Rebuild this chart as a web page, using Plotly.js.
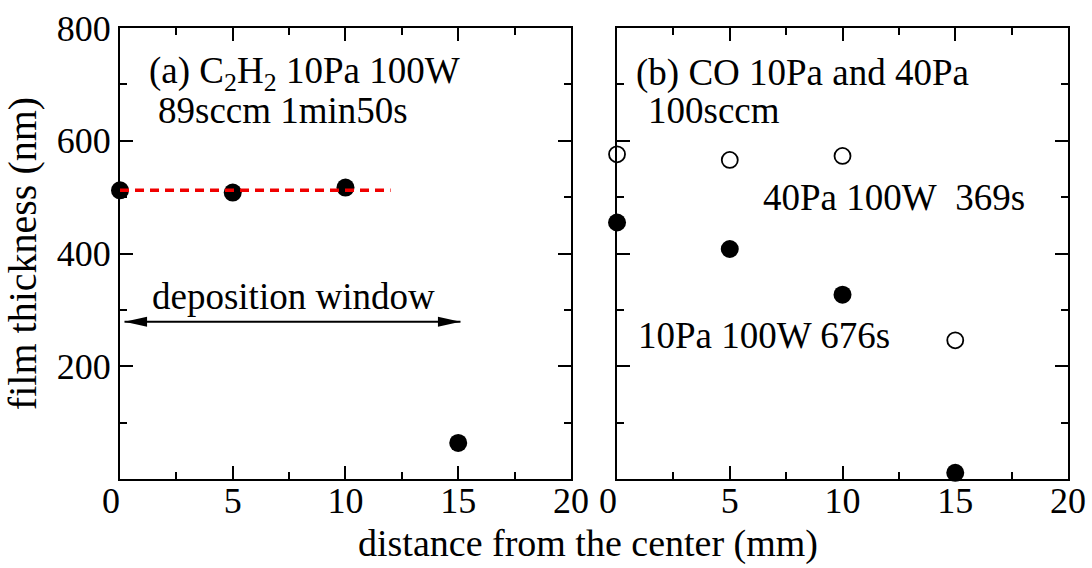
<!DOCTYPE html>
<html>
<head>
<meta charset="utf-8">
<script src="https://cdn.plot.ly/plotly-3.0.1.min.js"></script>
<style>html,body{margin:0;padding:0;background:#fff;}#chart{width:1092px;height:568px;}</style>
</head>
<body>
<div id="chart"></div>
<script>
// Panel (a): C2H2
const distA = [0, 5, 10, 15];
const thickA = [512, 508, 517, 64];
const fitX = [0, 12];
const fitY = [512, 512];
const windowX = [0.2, 15.1];
const windowY = [279, 279];

// Panel (b): CO
const distB = [0, 5, 10, 15];
const thick40Pa = [576, 566, 573, 246];
const thick10Pa = [455, 408, 327, 11];

const xTicks = [0, 5, 10, 15, 20];
const yTicks = [200, 400, 600, 800];

const FONT = 'Liberation Serif, Times New Roman, serif';
// the "0" label sits slightly left of its tick in the original (en-space pad)
const xTickText = xTicks.map(v => v === 0 ? '0\u2002' : String(v));

const traces = [
  {x: distA, y: thickA, xaxis: 'x', yaxis: 'y', mode: 'markers', type: 'scatter',
   marker: {size: 18, color: '#000', symbol: 'circle'}, cliponaxis: false},
  {x: fitX, y: fitY, xaxis: 'x', yaxis: 'y', mode: 'lines', type: 'scatter',
   line: {color: '#f00000', width: 3.5, dash: '9px,6px'}, cliponaxis: false},
  {x: windowX, y: windowY, xaxis: 'x', yaxis: 'y', mode: 'lines', type: 'scatter',
   line: {color: '#000', width: 2}},
  {x: distB, y: thick40Pa, xaxis: 'x2', yaxis: 'y2', mode: 'markers', type: 'scatter',
   marker: {size: 16, color: '#fff', symbol: 'circle', line: {color: '#000', width: 1.8}}, cliponaxis: false},
  {x: distB, y: thick10Pa, xaxis: 'x2', yaxis: 'y2', mode: 'markers', type: 'scatter',
   marker: {size: 18, color: '#000', symbol: 'circle'}, cliponaxis: false}
];

// arrowheads built from the window endpoints
const hl = 1.0, hw = 9;
const shapes = [
  {type: 'path', xref: 'x', yref: 'y', fillcolor: '#000', line: {width: 0},
   path: `M${windowX[0]},${windowY[0]} L${windowX[0]+hl},${windowY[0]+hw} L${windowX[0]+hl},${windowY[0]-hw} Z`},
  {type: 'path', xref: 'x', yref: 'y', fillcolor: '#000', line: {width: 0},
   path: `M${windowX[1]},${windowY[1]} L${windowX[1]-hl},${windowY[1]+hw} L${windowX[1]-hl},${windowY[1]-hw} Z`}
];

const axCommon = {
  showline: true, linecolor: '#000', linewidth: 2, mirror: 'ticks',
  ticks: 'inside', ticklen: 13, tickwidth: 2, tickcolor: '#000',
  showgrid: false, zeroline: false,
  tickfont: {family: FONT, size: 36, color: '#000'}
};
const minorX = {dtick: 2.5, tick0: 0, ticks: 'inside', ticklen: 7, tickwidth: 2, tickcolor: '#000', showgrid: false};
const minorY = {dtick: 100, tick0: 0, ticks: 'inside', ticklen: 7, tickwidth: 2, tickcolor: '#000', showgrid: false};
const annFont = {family: FONT, size: 37, color: '#000'};

const layout = {
  width: 1092, height: 568,
  margin: {l: 120, r: 24, t: 28, b: 89},
  paper_bgcolor: '#fff', plot_bgcolor: '#fff',
  showlegend: false,
  font: {family: FONT, color: '#000'},
  xaxis: Object.assign({}, axCommon, {domain: [0, 0.4757], range: [0, 20], tickvals: xTicks, ticktext: xTickText,
    ticklabelstandoff: -11, minor: minorX}),
  xaxis2: Object.assign({}, axCommon, {domain: [0.5243, 1], range: [0, 20], tickvals: xTicks, ticktext: xTickText,
    anchor: 'y2', ticklabelstandoff: -11, minor: minorX}),
  yaxis: Object.assign({}, axCommon, {range: [0, 800], tickvals: yTicks, anchor: 'x',
    title: {text: 'film thickness (nm)', font: {family: FONT, size: 40, color: '#000'}, standoff: 8},
    minor: minorY}),
  yaxis2: Object.assign({}, axCommon, {range: [0, 800], tickvals: yTicks, anchor: 'x2', showticklabels: false,
    minor: minorY}),
  shapes: shapes,
  annotations: [
    {xref: 'x', yref: 'y', x: 1.2, y: 720, xanchor: 'left', yanchor: 'middle', showarrow: false,
     text: '(a) C<sub>2</sub>H<sub>2</sub> 10Pa 100W', font: annFont},
    {xref: 'x', yref: 'y', x: 1.6, y: 654, xanchor: 'left', yanchor: 'middle', showarrow: false,
     text: '89sccm 1min50s', font: annFont},
    {xref: 'x', yref: 'y', x: 7.7, y: 323, xanchor: 'center', yanchor: 'middle', showarrow: false,
     text: 'deposition window', font: annFont},
    {xref: 'x2', yref: 'y2', x: 0.75, y: 720, xanchor: 'left', yanchor: 'middle', showarrow: false,
     text: '(b) CO 10Pa and 40Pa', font: annFont},
    {xref: 'x2', yref: 'y2', x: 1.3, y: 654, xanchor: 'left', yanchor: 'middle', showarrow: false,
     text: '100sccm', font: annFont},
    {xref: 'x2', yref: 'y2', x: 6.4, y: 500, xanchor: 'left', yanchor: 'middle', showarrow: false,
     text: '40Pa 100W&nbsp;&nbsp;369s', font: annFont},
    {xref: 'x2', yref: 'y2', x: 0.85, y: 255, xanchor: 'left', yanchor: 'middle', showarrow: false,
     text: '10Pa 100W 676s', font: annFont},
    {xref: 'paper', yref: 'paper', x: 0.494, y: -0.143, xanchor: 'center', yanchor: 'middle', showarrow: false,
     text: 'distance from the center (mm)', font: {family: FONT, size: 38, color: '#000'}}
  ]
};

Plotly.newPlot('chart', traces, layout, {staticPlot: true, displayModeBar: false});
</script>
</body>
</html>
